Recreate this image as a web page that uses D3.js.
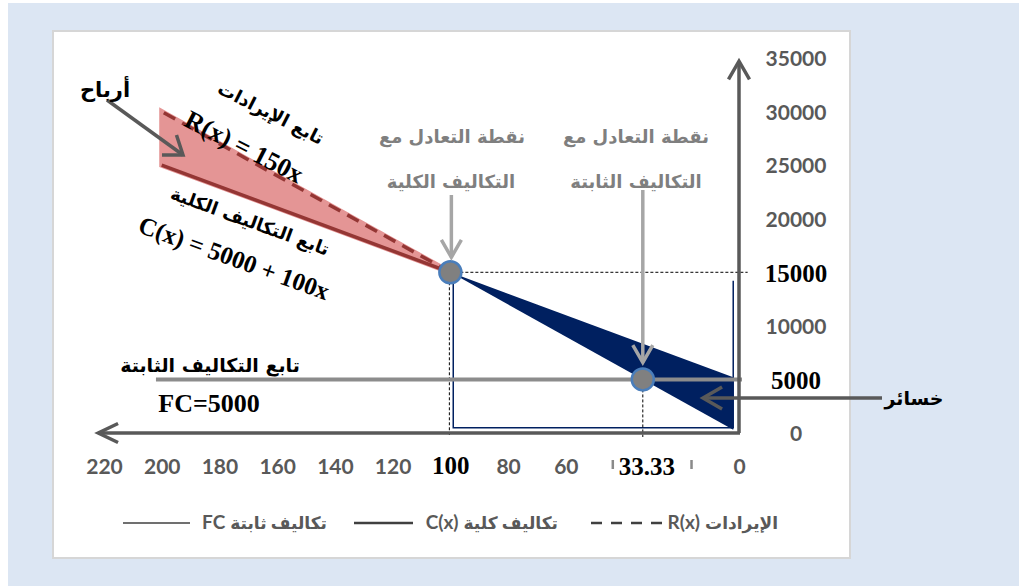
<!DOCTYPE html>
<html>
<head>
<meta charset="utf-8">
<script src="https://cdn.jsdelivr.net/npm/d3@7"></script>
<style>
  body { margin: 0; background: #fff; }
</style>
</head>
<body>
<svg id="chart" width="1019" height="586"></svg>
<script>
// values
const xTicks = [0, 20, 40, 60, 80, 100, 120, 140, 160, 180, 200, 220];
const hiddenXTicks = [20, 40];   // covered by the 33.33 label
const yTicks = [0, 5000, 10000, 15000, 20000, 25000, 30000, 35000];
const boldYTicks = [5000, 15000];
const boldXTicks = [100];

const revenueLine = [[100, 15000], [200, 30000]];   // R(x) = 150x
const costLine = [[100, 15000], [200, 25000]];      // C(x) = 5000 + 100x
const lossUpper = [[100, 15000], [2, 5200]];
const lossLower = [[100, 15000], [2, 300]];
const lossBoxX = [99, 2];
const lossBoxY = [500, 14200];
const fixedCost = 5000;
const fixedRange = [0, 202];
const breakEvenTotal = [100, 15000];
const breakEvenFixed = [33.33, 5000];

const legendNames = ['الإيرادات', 'تكاليف كلية', 'تكاليف ثابتة'];
const legendSymbols = ['R(x)', 'C(x)', 'FC'];

const sansFont = "Lato, 'DejaVu Sans', sans-serif";
const arabicFont = "'DejaVu Sans', sans-serif";
const serifFont = "'Liberation Serif', 'DejaVu Sans', serif";
const axisGray = '#595959';
const noteGray = '#7f7f7f';
const darkRed = '#943634';
const navy = '#002060';

const svg = d3.select('#chart');

// background and panel
svg.append('rect').attr('x', 8).attr('y', 3).attr('width', 1011).attr('height', 583).attr('fill', '#dce6f3');
svg.append('rect').attr('x', 53).attr('y', 31).attr('width', 797).attr('height', 527)
  .attr('fill', '#fff').attr('stroke', '#d6d6d6').attr('stroke-width', 2);

const x = d3.scaleLinear().domain([0, 220]).range([739, 104]);
const y = d3.scaleLinear().domain([0, 35000]).range([433, 58]);

const line = d3.line().x(d => x(d[0])).y(d => y(d[1]));

function arrow(g, x1, y1, x2, y2, color, width, len, ang) {
  g.append('line')
    .attr('x1', x1).attr('y1', y1).attr('x2', x2).attr('y2', y2)
    .attr('stroke', color).attr('stroke-width', width);
  const a = Math.atan2(y2 - y1, x2 - x1);
  const pts = [
    [x2 - len * Math.cos(a - ang), y2 - len * Math.sin(a - ang)],
    [x2, y2],
    [x2 - len * Math.cos(a + ang), y2 - len * Math.sin(a + ang)]
  ];
  g.append('path').attr('d', d3.line()(pts))
    .attr('fill', 'none').attr('stroke', color).attr('stroke-width', width)
    .attr('stroke-linejoin', 'miter');
}

const chart = svg.append('g');

// profit area (pink)
chart.append('path')
  .attr('d', line(revenueLine.concat(costLine.slice().reverse())) + 'Z')
  .attr('fill', '#e49595').attr('stroke', '#e49595').attr('stroke-width', 5);

// loss area (navy)
chart.append('path')
  .attr('d', line(lossUpper.concat(lossLower.slice().reverse())) + 'Z')
  .attr('fill', navy);

// thin navy frame under the loss area
chart.append('path')
  .attr('d', d3.line()([
    [x(lossBoxX[0]), y(lossBoxY[1])],
    [x(lossBoxX[0]), y(lossBoxY[0])],
    [x(lossBoxX[1]), y(lossBoxY[0])],
    [x(lossBoxX[1]), y(lossBoxY[1])]
  ]))
  .attr('fill', 'none').attr('stroke', navy).attr('stroke-width', 1.5);

// guide lines
chart.append('line')
  .attr('x1', x(breakEvenTotal[0])).attr('x2', x(-3))
  .attr('y1', y(breakEvenTotal[1])).attr('y2', y(breakEvenTotal[1]))
  .attr('stroke', '#000').attr('stroke-width', 1).attr('stroke-dasharray', '3,2');
chart.append('line')
  .attr('x1', x(breakEvenTotal[0]) - 1).attr('x2', x(breakEvenTotal[0]) - 1)
  .attr('y1', y(breakEvenTotal[1])).attr('y2', y(0) + 2)
  .attr('stroke', '#000').attr('stroke-width', 1).attr('stroke-dasharray', '3,2');
chart.append('line')
  .attr('x1', x(breakEvenFixed[0])).attr('x2', x(breakEvenFixed[0]))
  .attr('y1', y(breakEvenFixed[1])).attr('y2', y(0) + 4)
  .attr('stroke', '#000').attr('stroke-width', 1).attr('stroke-dasharray', '3,2');

// revenue and cost lines
chart.append('path').attr('d', line(costLine))
  .attr('fill', 'none').attr('stroke', darkRed).attr('stroke-width', 3.5);
chart.append('path').attr('d', line(revenueLine))
  .attr('fill', 'none').attr('stroke', darkRed).attr('stroke-width', 3.5)
  .attr('stroke-dasharray', '13,8');

// fixed cost line
chart.append('line')
  .attr('x1', x(fixedRange[1])).attr('x2', x(fixedRange[0]) + 3)
  .attr('y1', y(fixedCost)).attr('y2', y(fixedCost))
  .attr('stroke', '#8c8c8c').attr('stroke-width', 4);

// axes with arrowheads
const axes = svg.append('g');
arrow(axes, x(0), y(0), x(0), y(34700), axisGray, 3.5, 21, Math.PI / 6);
arrow(axes, x(0) + 1, y(0), x(222), y(0), axisGray, 3.5, 22, Math.PI / 7);

// tick labels
const yAxis = svg.append('g')
  .attr('transform', `translate(${x(0)},0)`)
  .call(d3.axisRight(y).tickValues(yTicks).tickFormat(d3.format('d')).tickSize(0).tickPadding(0));
yAxis.select('.domain').remove();
yAxis.selectAll('text')
  .attr('x', 57).attr('dy', '0.36em')
  .attr('text-anchor', 'middle')
  .attr('font-family', d => boldYTicks.includes(d) ? serifFont : sansFont)
  .attr('font-size', d => boldYTicks.includes(d) ? 25 : 21)
  .attr('font-weight', 'bold')
  .attr('fill', d => boldYTicks.includes(d) ? '#000' : axisGray);

const xAxis = svg.append('g')
  .attr('transform', `translate(0,${y(0)})`)
  .call(d3.axisBottom(x)
    .tickValues(xTicks.filter(d => !hiddenXTicks.includes(d)))
    .tickFormat(d3.format('d')).tickSize(0).tickPadding(0));
xAxis.select('.domain').remove();
xAxis.selectAll('text')
  .attr('y', 41).attr('dy', null)
  .attr('font-family', d => boldXTicks.includes(d) ? serifFont : sansFont)
  .attr('font-size', d => boldXTicks.includes(d) ? 25 : 21)
  .attr('font-weight', 'bold')
  .attr('fill', d => boldXTicks.includes(d) ? '#000' : axisGray);

// small leftovers of the covered 40 / 20 labels on each side of 33.33
svg.selectAll('.sliver')
  .data(hiddenXTicks)
  .enter()
  .append('rect')
  .attr('class', 'sliver')
  .attr('x', d => d === 40 ? x(d) - 12 : x(d) + 9)
  .attr('y', y(0) + 27)
  .attr('width', 2.5).attr('height', 9)
  .attr('fill', '#8a8a8a');

svg.append('text')
  .attr('x', x(breakEvenFixed[0]) + 4).attr('y', y(0) + 42)
  .attr('text-anchor', 'middle')
  .attr('font-family', serifFont).attr('font-size', 25).attr('font-weight', 'bold')
  .text(breakEvenFixed[0].toFixed(2));

// break-even points
[breakEvenTotal, breakEvenFixed].forEach(p => {
  svg.append('circle')
    .attr('cx', x(p[0])).attr('cy', y(p[1])).attr('r', 11)
    .attr('fill', '#808080').attr('stroke', '#4a7ebb').attr('stroke-width', 2.5);
});

// annotation arrows
const notes = svg.append('g');
arrow(notes, x(breakEvenTotal[0]) + 1, 195, x(breakEvenTotal[0]) + 1, y(breakEvenTotal[1]) - 15, '#a6a6a6', 3.5, 20, Math.PI / 6);
arrow(notes, x(breakEvenFixed[0]), 190, x(breakEvenFixed[0]), y(breakEvenFixed[1]) - 17, '#a6a6a6', 3.5, 20, Math.PI / 6);
arrow(notes, 107, 100, 183, 155, axisGray, 3.5, 21, Math.PI / 5);
arrow(notes, 882, 398, 703, 398, axisGray, 3.5, 22, Math.PI / 6);

function note(txt, cx, cy, opts) {
  const t = svg.append('text')
    .attr('x', cx).attr('y', cy)
    .attr('text-anchor', 'middle')
    .attr('font-family', opts.font || arabicFont)
    .attr('font-size', opts.size || 16)
    .attr('font-weight', 'bold')
    .attr('fill', opts.color || '#000')
    .text(txt);
  if (opts.rotate) {
    t.attr('x', 0).attr('y', 0).attr('dominant-baseline', 'central')
      .attr('transform', `translate(${cx},${cy}) rotate(${opts.rotate})`);
  }
  return t;
}

note('أرباح', 105, 97, { size: 21 });
note('خسائر', 914, 405, { size: 19 });
note('نقطة التعادل مع', 452, 143, { size: 18, color: noteGray });
note('التكاليف الكلية', 451, 188, { size: 18, color: noteGray });
note('نقطة التعادل مع', 636, 143, { size: 18, color: noteGray });
note('التكاليف الثابتة', 636, 188, { size: 18, color: noteGray });
note('تابع التكاليف الثابتة', 210, 372, { size: 19 });
note('FC=5000', 209, 412, { font: serifFont, size: 26 });

note('تابع الإيرادات', 271, 113, { size: 18, rotate: 27 });
note('R(x) = 150x', 244, 147, { font: serifFont, size: 26, rotate: 27 });
note('تابع التكاليف الكلية', 250, 221, { size: 18, rotate: 20 });
note('C(x) = 5000 + 100x', 234, 258, { font: serifFont, size: 25, rotate: 20 });

// legend
const legendRight = [778, 558, 327];
const legendLineX = [[591, 668], [354, 413], [123, 190]];
const legend = svg.append('g');
legendNames.forEach((name, i) => {
  const t = legend.append('text')
    .attr('x', legendRight[i]).attr('y', 529)
    .attr('text-anchor', 'end')
    .attr('font-family', sansFont).attr('font-size', 17).attr('font-weight', 'bold')
    .attr('fill', axisGray)
    .text(name);
  const w = t.node().getComputedTextLength();
  legend.append('text')
    .attr('x', legendRight[i] - w - 5).attr('y', 529)
    .attr('text-anchor', 'end')
    .attr('font-family', sansFont).attr('font-size', 19).attr('font-weight', 'bold')
    .attr('fill', axisGray)
    .text(legendSymbols[i]);
  legend.append('line')
    .attr('x1', legendLineX[i][0]).attr('x2', legendLineX[i][1])
    .attr('y1', 523).attr('y2', 523)
    .attr('stroke', '#404040')
    .attr('stroke-width', i === 2 ? 1.5 : 2.5)
    .attr('stroke-dasharray', i === 0 ? '11,9' : null);
});
</script>
</body>
</html>
